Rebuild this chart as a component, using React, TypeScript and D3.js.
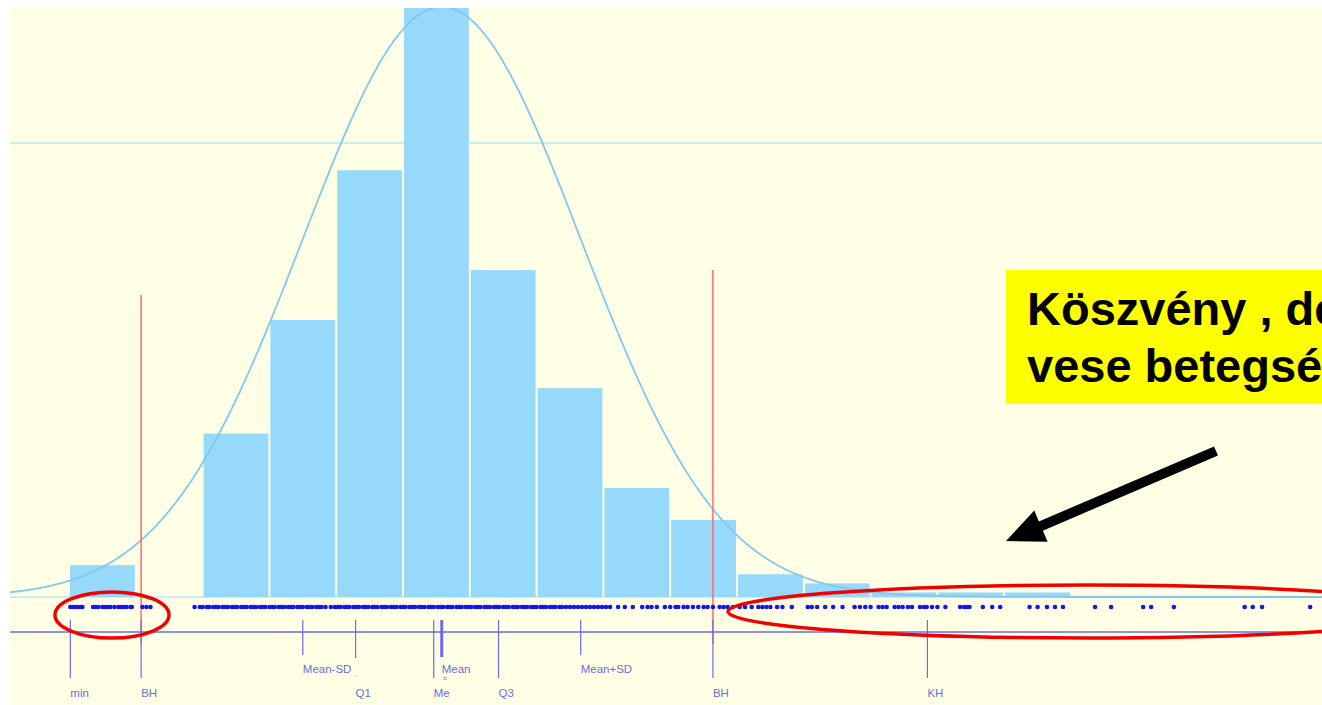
import React from "react";
import * as d3 from "d3";

// ---- data ----
const binStart = 100;
const binWidth = 50;
const binCounts = [7, 0, 36, 61, 94, 140, 72, 46, 24, 17, 5, 3, 1, 1, 1];

const gridValues = [100];

// individual observations (dot strip)
const observations = [
  101, 103, 105, 107, 109, 110,
  118, 120, 122, 125, 127, 129, 131, 134, 137, 139, 141, 143, 146, 147,
  155, 158, 161,
  194, 198, 200, 203, 205, 208, 210, 212, 215, 217, 219, 222, 224, 226, 229, 231, 233, 236, 238, 240,
  243, 245, 247, 250, 252, 254, 257, 259, 261, 264, 266, 268, 271, 273, 275, 278, 280, 282, 285, 287,
  289, 292, 296, 299, 301, 303, 306, 308, 310, 313, 315, 317, 320, 322, 324, 327, 329, 331, 334, 336,
  338, 341, 343, 345, 348, 350, 352, 355, 357, 359, 362, 364, 366, 369, 371, 373, 376, 378, 380, 383,
  385, 387, 390, 392, 394, 397, 399, 401, 404, 406, 408, 411, 413, 415, 418, 420, 422, 425, 427, 429,
  432, 434, 436, 439, 441, 443, 446, 448, 450, 453, 455, 457, 460, 462, 464, 467, 469, 472, 475, 478,
  481, 484, 487, 490, 493, 496, 499, 502,
  505, 511, 516, 522, 529, 533, 536, 540, 546, 550, 554, 556, 560, 563, 567, 571, 575, 578, 582, 587,
  590, 593, 597, 602, 606, 611, 616, 619, 622, 625, 630, 634, 641, 653, 656, 660, 666, 672, 679, 688,
  692, 696, 700, 706, 709, 712, 718, 721, 724, 728, 731, 737, 740, 742, 746, 750, 756, 767, 770, 772,
  774, 784, 791, 797, 819, 825, 832, 838, 844, 868, 880, 904, 910, 927, 980, 986, 993, 1029,
];

const minValue = 101;
const q1 = 314.5;
const median = 373;
const q3 = 421.5;
const mean = 379;
const sd = 104;
const curvePeak = 130;

const noteLines = ["Köszvény , de", "vese betegség"];

// ---- layout ----
const W = 1322;
const H = 705;
const plotLeft = 10;
const plotTop = 8;
const baseY = 597;
const dotY = 607;
const axisY = 632;

export default function App() {
  const nBins = binCounts.length;
  const x = d3
    .scaleLinear()
    .domain([binStart, binStart + binWidth * nBins])
    .range([69, 69 + 66.8 * nBins]);
  const y = d3.scaleLinear().domain([0, 100]).range([baseY, 143]);

  const iqr = q3 - q1;
  const markers = [
    { label: "min", v: minValue, y2: 678, row: 2 },
    { label: "BH", v: q1 - 1.5 * iqr, y2: 678, row: 2, red: 295 },
    { label: "Mean-SD", v: mean - sd, y2: 655, row: 1 },
    { label: "Q1", v: q1, y2: 658, row: 2 },
    { label: "Me", v: median, y2: 678, row: 2 },
    { label: "Mean", v: mean, y2: 657, row: 1, thick: true },
    { label: "Q3", v: q3, y2: 678, row: 2 },
    { label: "Mean+SD", v: mean + sd, y2: 655, row: 1 },
    { label: "BH", v: q3 + 1.5 * iqr, y2: 678, row: 2, red: 270 },
    { label: "KH", v: q3 + 3 * iqr, y2: 678, row: 2 },
  ];

  const xs = d3.range(plotLeft, W + 1, 2);
  const curve = d3
    .line<number>()
    .x((px) => px)
    .y((px) => {
      const v = x.invert(px);
      const z = (v - mean) / sd;
      return y(curvePeak * Math.exp(-0.5 * z * z));
    })
    .curve(d3.curveBasis)(xs);

  const labelColor = "#6d6de0";
  const lineColor = "#6a6af0";

  // arrow geometry
  const a0 = { x: 1216, y: 451 };
  const tip = { x: 1006, y: 541 };
  const dx = tip.x - a0.x;
  const dy = tip.y - a0.y;
  const len = Math.hypot(dx, dy);
  const ux = dx / len;
  const uy = dy / len;
  const headLen = 38;
  const headHalf = 17;
  const bx = tip.x - headLen * ux;
  const by = tip.y - headLen * uy;
  const nx = -uy;
  const ny = ux;

  return (
    <svg
      width={W}
      height={H}
      style={{ position: "absolute", left: 0, top: 0, background: "#ffffff" }}
      fontFamily="Arial, 'Liberation Sans', sans-serif"
    >
      <defs>
        <clipPath id="plotClip">
          <rect x={plotLeft} y={plotTop} width={W - plotLeft} height={H - plotTop} />
        </clipPath>
      </defs>
      <rect x={plotLeft} y={plotTop} width={W - plotLeft} height={H - plotTop} fill="#ffffe6" />
      <g clipPath="url(#plotClip)">
        {gridValues.map((g) => (
          <line key={g} x1={plotLeft} x2={W} y1={y(g)} y2={y(g)} stroke="#b4e8f0" strokeWidth={1.5} />
        ))}
        <line x1={plotLeft} x2={W} y1={baseY} y2={baseY} stroke="#bfe6f6" strokeWidth={1.5} />
        {binCounts.map((c, i) => {
          if (c <= 0) return null;
          const x0 = x(binStart + i * binWidth);
          const x1 = x(binStart + (i + 1) * binWidth);
          return (
            <rect
              key={i}
              x={x0 + 1}
              y={y(c)}
              width={x1 - x0 - 2}
              height={baseY - y(c)}
              fill="#96d9fa"
            />
          );
        })}
        <path d={curve || ""} fill="none" stroke="#80c8f0" strokeWidth={1.8} />

        {/* red reference lines */}
        {markers
          .filter((m) => m.red)
          .map((m, i) => (
            <line
              key={"r" + i}
              x1={x(m.v)}
              x2={x(m.v)}
              y1={m.red}
              y2={644}
              stroke="#ff6a6a"
              strokeWidth={1.5}
            />
          ))}

        {/* dot strip */}
        {observations.map((v, i) => (
          <circle key={i} cx={x(v)} cy={dotY} r={2.3} fill="#1414ee" />
        ))}

        {/* axis line */}
        <line x1={plotLeft} x2={W} y1={axisY} y2={axisY} stroke={lineColor} strokeWidth={1.3} />

        {markers.map((m, i) => {
          const px = x(m.v);
          return (
            <g key={"m" + i}>
              <line
                x1={px}
                x2={px}
                y1={620}
                y2={m.y2}
                stroke={lineColor}
                strokeWidth={m.thick ? 3 : 1.2}
              />
              <text
                x={px}
                y={m.row === 1 ? 673 : 697}
                fontSize={11.5}
                fill={labelColor}
              >
                {m.label}
              </text>
            </g>
          );
        })}
        <text x={x(q1) - 1} y={677} fontSize={8} fill={labelColor}>.</text>
        <text x={x(mean) + 1} y={681} fontSize={8} fill={labelColor}>=</text>

        {/* highlight ellipses */}
        <ellipse cx={112} cy={615} rx={57} ry={23} fill="none" stroke="#f00000" strokeWidth={3.5} />
        <ellipse cx={1087} cy={611.5} rx={359} ry={26.5} fill="none" stroke="#f00000" strokeWidth={3.5} />

        {/* annotation box */}
        <rect x={1006} y={270} width={340} height={134} fill="#ffff00" />
        {noteLines.map((t, i) => (
          <text
            key={i}
            x={1027}
            y={325 + i * 57}
            fontSize={47}
            fontWeight="bold"
            fill="#000000"
          >
            {t}
          </text>
        ))}

        {/* arrow */}
        <line x1={a0.x} y1={a0.y} x2={bx + 2 * ux} y2={by + 2 * uy} stroke="#000" strokeWidth={10} />
        <polygon
          points={`${tip.x},${tip.y} ${bx + headHalf * nx},${by + headHalf * ny} ${bx - headHalf * nx},${by - headHalf * ny}`}
          fill="#000"
        />
      </g>
    </svg>
  );
}
